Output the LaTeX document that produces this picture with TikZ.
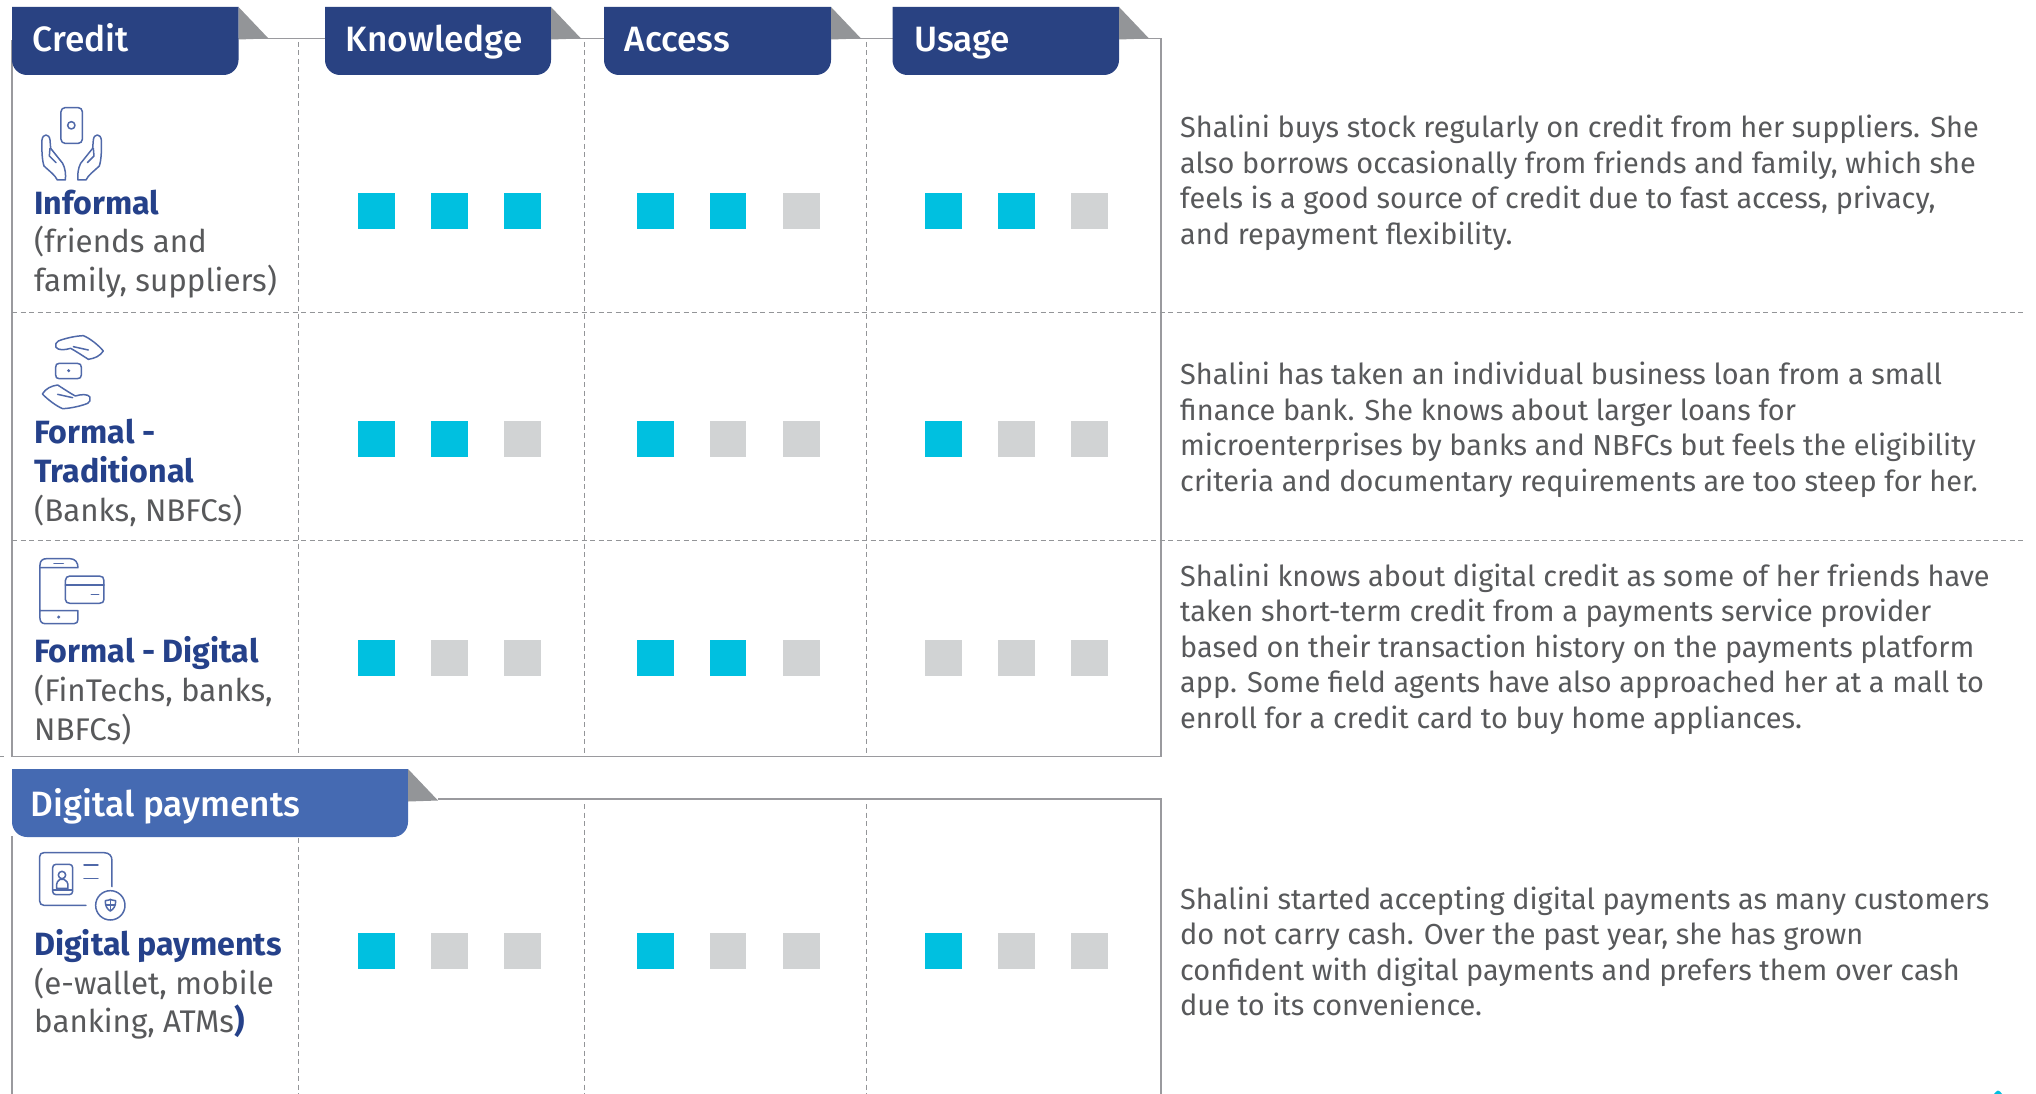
\documentclass[tikz,border=0pt]{standalone}
\usepackage{fontspec}
\setmainfont{Fira Sans}
\newfontfamily\tabfont{Fira Sans Medium}
\definecolor{tabdark}{HTML}{294282}
\definecolor{tablight}{HTML}{456AB2}
\definecolor{fold}{HTML}{939598}
\definecolor{teal}{HTML}{00C0E0}
\definecolor{off}{HTML}{D1D3D4}
\definecolor{bodytext}{HTML}{58595B}
\definecolor{headblue}{HTML}{25418A}
\definecolor{frame}{HTML}{9A9A9E}
\definecolor{icon}{HTML}{5069A9}
\tikzset{
  x=1pt,y=-1pt,
  frameline/.style={draw=frame,line width=1.8pt},
  gridline/.style={draw=fold,line width=1pt,dash pattern=on 5pt off 3.5pt},
  tabtext/.style={anchor=base west,inner sep=0pt,text=white,font=\tabfont\fontsize{35.2}{36}\selectfont},
  body/.style={anchor=base west,inner sep=0pt,text=bodytext,font=\fontsize{28.9}{35.5}\selectfont,align=left},
  label/.style={anchor=base west,inner sep=0pt,text=bodytext,font=\fontsize{31.3}{38.6}\selectfont,align=left},
  sq/.style={inner sep=0pt,minimum width=36.5pt,minimum height=36pt,anchor=north west},
  on/.style={sq,fill=teal},
  no/.style={sq,fill=off},
  ic/.style={draw=icon,line width=1.5pt,line join=round,line cap=round,fill=none}
}
\newcommand{\lblhead}[1]{\textcolor{headblue}{\fontsize{32.2}{38.6}\fontseries{sb}\selectfont #1}}
\newcommand{\tabshape}[4]{% x1 x2 y1 colour
  \fill[#4] (#1,#3) -- (#2,#3) -- (#2,#3+53) .. controls (#2,#3+61.5) and (#2-7,#3+68) .. (#2-15,#3+68) -- (#1+15,#3+68) .. controls (#1+7,#3+68) and (#1,#3+61.5) .. (#1,#3+53) -- cycle;
  \fill[fold] (#2,#3) -- (#2+30,#3+31.5) -- (#2,#3+32.5) -- cycle;
}
\begin{document}
\begin{tikzpicture}
\useasboundingbox (0,0) rectangle (2036,1094);
\fill[white] (0,0) rectangle (2036,1094);
% frames
\draw[frameline] (12,40) -- (12,756.5) -- (1161,756.5) -- (1161,38.5) -- (238,38.5);
\draw[frameline] (12,836) -- (12,1094);
\draw[frameline] (438,799) -- (1161,799) -- (1161,1094);
% grid
\foreach \x in {298.5,584.5,866.5}{
  \draw[gridline] (\x,42) -- (\x,756);
  \draw[gridline] (\x,804) -- (\x,1094);
}
\draw[gridline] (12,312.5) -- (2026,312.5);
\draw[gridline] (12,540.5) -- (2026,540.5);
\draw[gridline] (0,756.5) -- (4,756.5);
% tabs
\tabshape{12}{238.5}{7}{tabdark}
\tabshape{325}{551}{7}{tabdark}
\tabshape{604}{831}{7}{tabdark}
\tabshape{892.5}{1119}{7}{tabdark}
\tabshape{12}{408}{769}{tablight}
\node[tabtext] (tcredit) at (32.5,51.5) {Credit};
\node[tabtext] (tknow) at (345.5,51.5) {Knowledge};
\node[tabtext] (taccess) at (624.5,51.5) {Access};
\node[tabtext] (tusage) at (914,51.5) {Usage};
\node[tabtext] (tdigital) at (30.5,816) {Digital payments};
% squares
\newcommand{\sqrow}[3]{% y, name, pattern list
  \foreach \cx/\st [count=\i] in {#3}{
    \node[\st] (#2\i) at (\cx,#1) {};
  }
}
\sqrow{193}{ra}{358/on,431/on,504/on,637/on,709.5/on,783/no,925/on,998/on,1071/no}
\sqrow{421}{rb}{358/on,431/on,504/no,637/on,709.5/no,783/no,925/on,998/no,1071/no}
\sqrow{640}{rc}{358/on,431/no,504/no,637/on,709.5/on,783/no,925/no,998/no,1071/no}
\sqrow{933}{rd}{358/on,431/no,504/no,637/on,709.5/no,783/no,925/on,998/no,1071/no}
% left labels
\node[label] (la) at (34,291.5) {\lblhead{Informal}\\(friends and\\family, suppliers)};
\node[label] (lb) at (34,521) {\lblhead{Formal -}\\\lblhead{Traditional}\\(Banks, NBFCs)};
\node[label] (lc) at (34,740) {\lblhead{Formal - Digital}\\(FinTechs, banks,\\NBFCs)};
\node[label] (ld) at (34,1032.8) {\lblhead{Digital payments}\\(e-wallet, mobile\\banking, ATMs\lblhead{)}};
% right text
\node[body] (ba) at (1180,244) {Shalini buys stock regularly on credit from her suppliers. She\\also borrows occasionally from friends and family, which she\\feels is a good source of credit due to fast access, privacy,\\and repayment flexibility.};
\node[body] (bb) at (1180,491) {Shalini has taken an individual business loan from a small\\finance bank. She knows about larger loans for\\microenterprises by banks and NBFCs but feels the eligibility\\criteria and documentary requirements are too steep for her.};
\node[body] (bc) at (1180,728) {Shalini knows about digital credit as some of her friends have\\taken short-term credit from a payments service provider\\based on their transaction history on the payments platform\\app. Some field agents have also approached her at a mall to\\enroll for a credit card to buy home appliances.};
\node[body] (bd) at (1180,1015.7) {Shalini started accepting digital payments as many customers\\do not carry cash. Over the past year, she has grown\\confident with digital payments and prefers them over cash\\due to its convenience.};
% icon 1
\begin{scope}[scale=1/3]
  \draw[ic,rounded corners=4pt] (183,323) rectangle (247,430);
  \draw[ic] (214,376) circle[radius=11];
  \draw[ic] (126,420) .. controls (128,400) and (148,400) .. (150,420) -- (152,445) -- (188,490) .. controls (196,505) and (198,525) .. (196,540) -- (172,540) .. controls (165,525) and (150,515) .. (132,498) .. controls (126,480) and (125,450) .. (126,420);
  \draw[ic] (150,445) -- (148,468) -- (168,488);
  \draw[ic] (304,420) .. controls (302,400) and (282,400) .. (280,420) -- (278,445) -- (242,490) .. controls (234,505) and (232,525) .. (234,540) -- (258,540) .. controls (265,525) and (280,515) .. (298,498) .. controls (304,480) and (305,450) .. (304,420);
  \draw[ic] (280,445) -- (282,468) -- (262,488);
\end{scope}
% icon 2
\begin{scope}[yshift=-320pt,scale=1/3]
  \draw[ic] (175,63) .. controls (195,55) and (225,48) .. (250,47) .. controls (270,55) and (295,75) .. (310,93) .. controls (300,108) and (285,115) .. (265,118) .. controls (245,105) and (225,92) .. (212,85) .. controls (195,90) and (175,92) .. (168,82) .. controls (165,73) and (168,67) .. (175,63);
  \draw[ic] (220,80) -- (265,90);
  \draw[ic] (178,130) -- (232,130) .. controls (240,130) and (244,134) .. (244,142) -- (244,165) .. controls (244,172) and (240,176) .. (232,176) -- (178,176) .. controls (170,176) and (167,172) .. (167,165) -- (167,142) .. controls (167,134) and (170,130) .. (178,130);
  \fill[icon] (206,152) circle[radius=5];
  \draw[ic] (263,250) .. controls (243,258) and (213,265) .. (188,266) .. controls (168,258) and (143,238) .. (127,222) .. controls (138,205) and (153,198) .. (173,195) .. controls (193,208) and (213,221) .. (226,228) .. controls (243,223) and (263,221) .. (270,231) .. controls (272,240) and (270,246) .. (263,250);
  \draw[ic] (218,233) -- (173,223);
\end{scope}
% icon 3
\begin{scope}[yshift=-320pt,scale=1/3]
  \draw[ic] (120,735) .. controls (120,722) and (128,716) .. (140,716) -- (210,716) .. controls (226,716) and (234,728) .. (234,743) -- (120,743);
  \draw[ic] (120,735) -- (120,895) .. controls (120,905) and (126,911) .. (136,911) -- (222,911) .. controls (230,911) and (234,906) .. (234,898) -- (234,872) -- (120,872);
  \draw[ic] (162,730) -- (190,730);
  \fill[icon] (176,891) circle[radius=5];
  \draw[ic] (196,782) .. controls (196,773) and (202,768) .. (210,768) -- (298,768) .. controls (307,768) and (312,773) .. (312,782) -- (312,838) .. controls (312,846) and (307,850) .. (298,850) -- (210,850) .. controls (202,850) and (196,846) .. (196,838) -- cycle;
  \draw[ic] (196,795) -- (312,795);
  \draw[ic] (274,823) -- (296,823);
\end{scope}
% icon 4
\begin{scope}[yshift=-740pt,scale=1/3]
  \draw[ic] (258,496) -- (132,496) .. controls (124,496) and (119,491) .. (119,483) -- (119,350) .. controls (119,342) and (124,338) .. (132,338) -- (312,338) .. controls (328,338) and (336,348) .. (336,362) -- (336,440);
  \draw[ic] (168,373) -- (208,373) .. controls (214,373) and (218,377) .. (218,383) -- (218,454) .. controls (218,460) and (214,464) .. (208,464) -- (168,464) .. controls (162,464) and (158,460) .. (158,454) -- (158,383) .. controls (158,377) and (162,373) .. (168,373);
  \draw[ic] (160,450) -- (216,450);
  \draw[ic] (186,405) circle[radius=11];
  \draw[ic] (170,445) .. controls (168,425) and (176,420) .. (180,418) -- (192,418) .. controls (198,422) and (206,425) .. (204,445) -- cycle;
  \draw[ic] (252,375) -- (294,375);
  \draw[ic] (252,416) -- (294,416);
  \draw[ic] (331,496) circle[radius=44];
  \draw[ic] (316,482) .. controls (325,482) and (331,478) .. (331,478) .. controls (331,478) and (338,482) .. (347,482) .. controls (348,498) and (340,508) .. (331,513) .. controls (322,508) and (315,498) .. (316,482);
  \draw[ic] (318,495) -- (345,495);
  \draw[ic] (331,480) -- (331,512);
\end{scope}
% bottom-right mark
\fill[teal] (1994,1094) .. controls (1995,1092) and (1997,1091) .. (1998,1090.5) .. controls (1999.5,1091) and (2001,1092) .. (2002,1094) -- cycle;
\end{tikzpicture}
\end{document}
